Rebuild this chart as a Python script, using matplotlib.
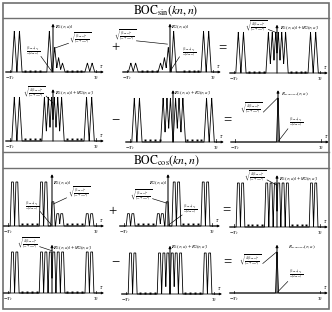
import numpy as np
import matplotlib
matplotlib.use('Agg')
import matplotlib.pyplot as plt

plt.rcParams['font.family'] = ['Liberation Serif', 'DejaVu Serif']
plt.rcParams['mathtext.fontset'] = 'stix'

W, H = 332, 312

# ---------------- data ----------------
headers = [r'$\mathrm{BOC}_{\mathrm{sin}}(kn,n)$', r'$\mathrm{BOC}_{\mathrm{cos}}(kn,n)$']
row_ops = [['+', '='], ['\u2212', '='], ['+', '='], ['\u2212', '=']]

# BOC_sin components (peak centres in units of Tc, normalised heights)
sin_r1_c = [-0.9, -0.78, -0.085, 0.04, 0.13, 0.22, 0.8, 0.91]
sin_r1_h = [1, 1, 1, 0.6, 0.35, 0.22, 0.22, 0.22]
sin_r2_c = [-0.91, -0.8, -0.22, -0.13, -0.04, 0.085, 0.78, 0.9]
sin_r2_h = [0.22, 0.22, 0.22, 0.35, 0.6, 1, 1, 1]
sin_sum_c = [-0.9, -0.78, -0.2, -0.11, -0.03, 0.03, 0.11, 0.2, 0.78, 0.9]
sin_sum_h = [1, 1, 1, 1, 1, 1, 1, 1, 1, 1]
sin_abs_c = [-0.9, -0.78, -0.23, -0.14, -0.06, 0.06, 0.14, 0.23, 0.78, 0.9]
sin_abs_h = [1, 1, 1, 1, 1, 1, 1, 1, 1, 1]
prop_c = [0.0]
prop_h = [1.0]

# BOC_cos components
cos_r1_c = [-0.9, -0.8, -0.24, -0.14, 0.02, 0.13, 0.22, 0.8, 0.9]
cos_r1_h = [1, 1, 1, 1, 0.55, 0.28, 0.28, 0.28, 0.28]
cos_r2_c = [-0.9, -0.8, -0.22, -0.13, -0.02, 0.14, 0.24, 0.8, 0.9]
cos_r2_h = [0.28, 0.28, 0.28, 0.28, 0.55, 1, 1, 1, 1]
cos_sum_c = [-0.9, -0.8, -0.24, -0.14, -0.04, 0.04, 0.14, 0.24, 0.8, 0.9]
cos_sum_h = [1, 1, 1, 1, 1, 1, 1, 1, 1, 1]
cos_abs_c = [-0.9, -0.8, -0.24, -0.14, -0.05, 0.05, 0.14, 0.24, 0.8, 0.9]
cos_abs_h = [1, 1, 1, 1, 1, 1, 1, 1, 1, 1]

sin_dots = [-0.64, -0.53, -0.42, -0.31, 0.33, 0.44, 0.55, 0.66]
cos_dots = [-0.68, -0.57, -0.46, -0.35, 0.35, 0.46, 0.57, 0.68]

tick_labels = [r'$-T_c$', r'$T_c$']

FRAC = r'$\frac{(1-a)T_c}{N(2-a)}$'
SQ1 = r'$\sqrt{\frac{(1-a)^2}{(N+Na^2)}}$'
SQ4 = r'$\sqrt{\frac{4(1-a)^2}{(N+Na^2)}}$'
LR1 = r'$|R_1(\tau;a)|$'
LR2 = r'$|R_2(\tau;a)|$'
LSUM = r'$|R_1(\tau;a)|+|R_2(\tau;a)|$'
LABS = r'$|R_1(\tau;a)+R_2(\tau;a)|$'
LPROP = r'$R_{proposed}(\tau;a)$'

# ---------------- figure ----------------
fig = plt.figure(figsize=(W / 100, H / 100), dpi=100)
bg = fig.add_axes([0, 0, 1, 1])
bg.set_xlim(0, W)
bg.set_ylim(H, 0)
bg.axis('off')

fc = '#707070'
bg.add_patch(plt.Rectangle((3, 3), 326, 306, fill=False, ec=fc, lw=1.2))
for yy in (18, 152, 168):
    bg.plot([3, 329], [yy, yy], color=fc, lw=1.0)
bg.text(166, 10.5, headers[0], ha='center', va='center', fontsize=8.5)
bg.text(166, 160.5, headers[1], ha='center', va='center', fontsize=8.5)

op_pos = [(115, 48, 222, 48), (115, 120, 227, 120), (112, 212, 226, 210), (115, 262, 227, 262)]
for ops, (x1, y1, x2, y2) in zip(row_ops, op_pos):
    bg.text(x1, y1, ops[0], ha='center', va='center', fontsize=10.5)
    bg.text(x2, y2, ops[1], ha='center', va='center', fontsize=10.5)


def draw_panel(ox, by, sx, sy, centers, heights, w, t, dots, labels, leaders):
    xl, xr, yb, yt = -1.35, 1.35, -0.35, 1.4
    left = ox + xl * sx
    right = ox + xr * sx
    top = by - yt * sy
    bottom = by - yb * sy
    ax = fig.add_axes([left / W, 1 - bottom / H, (right - left) / W, (bottom - top) / H])
    ax.set_xlim(xl, xr)
    ax.set_ylim(yb, yt)
    ax.axis('off')
    x = np.linspace(-1.1, 1.1, 4401)
    y = np.zeros_like(x)
    for c, h in zip(centers, heights):
        y = np.maximum(y, h * np.clip((w - np.abs(x - c)) / (w - t), 0, 1))
    ax.plot(x, y, color='k', lw=0.6, solid_joinstyle='miter')
    ap = dict(arrowstyle='-|>', lw=0.55, color='k', mutation_scale=3.5, shrinkA=0, shrinkB=0)
    ax.annotate('', xy=(1.18, 0), xytext=(-1.1, 0), arrowprops=ap)
    ap2 = dict(ap, lw=0.75)
    ax.annotate('', xy=(0, 1.18), xytext=(0, 0), arrowprops=ap2)
    ax.text(1.13, 0.05, r'$\tau$', ha='center', va='bottom', fontsize=4.2)
    for xv, lab in zip((-1, 1), tick_labels):
        ax.plot([xv, xv], [0, 0.06], color='k', lw=0.5)
        ax.text(xv, -0.06, lab, ha='center', va='top', fontsize=3.8)
    if dots:
        ax.plot(dots, np.full(len(dots), 0.035), 's', ms=1.4, color='k', mew=0)
    for txt, tx, ty, ha in labels:
        ax.text(tx, ty, txt, ha=ha, va='center', fontsize=3.5)
    for (x1, y1, x2, y2) in leaders:
        ax.plot([x1, x2], [y1, y2], color='k', lw=0.45)
    return ax


WS, WC, TC, WP = 0.058, 0.05, 0.022, 0.035

# Row 1 (sin)
draw_panel(53, 72, 43, 41, sin_r1_c, sin_r1_h, WS, 0, sin_dots,
           [(LR1, 0.04, 1.1, 'left'), (SQ1, 0.62, 0.82, 'center'), (FRAC, -0.46, 0.5, 'center')],
           [(0.36, 0.7, 0.03, 0.58), (-0.28, 0.38, -0.04, 0.03)])
draw_panel(170, 72, 43, 41, sin_r2_c, sin_r2_h, WS, 0, sin_dots,
           [(LR2, 0.03, 1.1, 'left'), (SQ1, -1.05, 0.88, 'center'), (FRAC, 0.45, 0.47, 'center')],
           [(-0.78, 0.76, -0.06, 0.68), (0.22, 0.37, 0.01, 0.03)])
draw_panel(277, 73, 43, 41, sin_sum_c, sin_sum_h, WS, 0, sin_dots,
           [(SQ4, -0.48, 1.13, 'center'), (LSUM, 0.06, 1.1, 'left')],
           [(-0.2, 1.06, 0.0, 0.98)])
# Row 2 (sin)
draw_panel(53, 141, 43, 44, sin_sum_c, sin_sum_h, WS, 0, sin_dots,
           [(SQ4, -0.45, 1.1, 'center'), (LSUM, 0.05, 1.08, 'left')],
           [(-0.16, 1.02, 0.0, 0.86)])
draw_panel(173, 142, 43, 44, sin_abs_c, sin_abs_h, WS, 0, sin_dots,
           [(LABS, 0.03, 1.1, 'left')], [])
draw_panel(278, 142, 43, 44, prop_c, prop_h, WP, 0, [],
           [(LPROP, 0.06, 1.08, 'left'), (SQ4, -0.62, 0.75, 'center'), (FRAC, 0.43, 0.45, 'center')],
           [(-0.34, 0.68, -0.01, 1.0), (0.23, 0.3, 0.01, 0.02)])
# Row 3 (cos)
draw_panel(52, 226, 44, 44, cos_r1_c, cos_r1_h, WC, TC, cos_dots,
           [(LR1, 0.03, 0.97, 'left'), (SQ1, 0.62, 0.75, 'center'), (FRAC, -0.46, 0.45, 'center')],
           [(0.33, 0.64, 0.03, 0.5), (-0.27, 0.33, -0.01, 0.02)])
draw_panel(168, 226, 44, 44, cos_r2_c, cos_r2_h, WC, TC, cos_dots,
           [(LR2, -0.02, 0.98, 'right'), (SQ1, -0.62, 0.7, 'center'), (FRAC, 0.5, 0.38, 'center')],
           [(-0.35, 0.62, -0.03, 0.52), (0.32, 0.25, 0.01, 0.02)])
draw_panel(277, 227, 43, 44, cos_sum_c, cos_sum_h, WC, TC, cos_dots,
           [(SQ4, -0.52, 1.15, 'center'), (LSUM, 0.04, 1.08, 'left')],
           [(-0.23, 1.07, 0.0, 0.95)])
# Row 4 (cos)
draw_panel(52, 293, 44, 41, cos_sum_c, cos_sum_h, WC, TC, cos_dots,
           [(SQ4, -0.55, 1.2, 'center'), (LSUM, 0.03, 1.1, 'left')],
           [(-0.28, 1.13, 0.0, 1.03)])
draw_panel(170, 294, 44, 41, cos_abs_c, cos_abs_h, WC, TC, cos_dots,
           [(LABS, 0.02, 1.15, 'left')], [])
draw_panel(277, 293, 43, 41, prop_c, prop_h, WP, 0, [],
           [(LPROP, 0.25, 1.12, 'left'), (SQ4, -0.62, 0.8, 'center'), (FRAC, 0.45, 0.45, 'center')],
           [(-0.33, 0.72, -0.01, 1.0), (0.25, 0.28, 0.01, 0.02)])

fig.savefig('out.png', dpi=100)
